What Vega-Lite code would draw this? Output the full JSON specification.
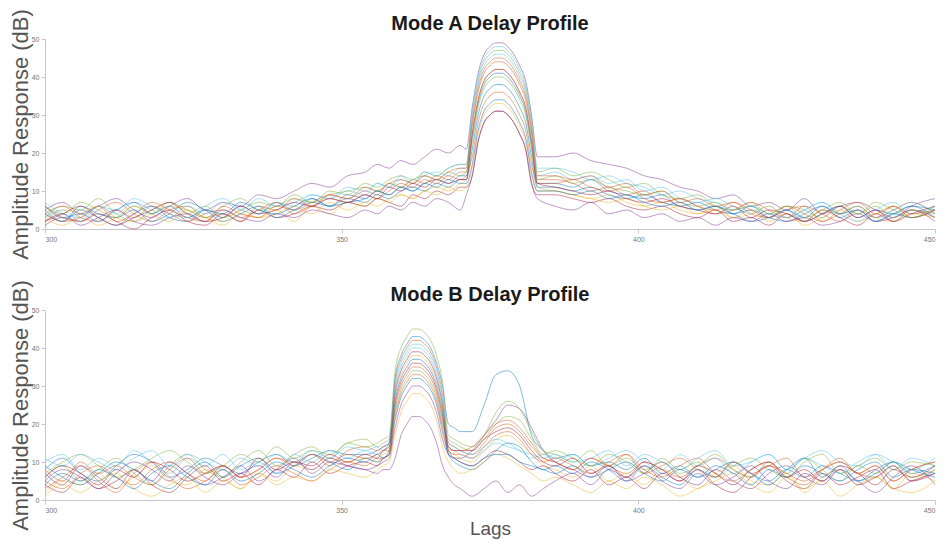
{
"$schema":"https://vega.github.io/schema/vega-lite/v6.json",
"background":"white",
"padding":{"left":9,"top":8,"right":8,"bottom":4},
"bounds":"flush",
"spacing":81,
"config":{"view":{"stroke":null},"font":"Liberation Sans","title":{"fontSize":20,"fontWeight":"bold","color":"#1a1a1a","offset":4,"dy":29},"axis":{"labelFontSize":7,"labelColor":"#777","domainColor":"#c8c8c8","tickColor":"#c8c8c8","tickSize":4,"grid":false,"titleFontWeight":"normal","titleColor":"#555"}},
"datasets":{
"A":[
{"s":1,"x":300,"y":4},{"s":1,"x":303,"y":2},{"s":1,"x":306,"y":5},{"s":1,"x":309,"y":3},{"s":1,"x":312,"y":1},{"s":1,"x":315,"y":4},{"s":1,"x":318,"y":6},{"s":1,"x":321,"y":3},{"s":1,"x":324,"y":2},{"s":1,"x":327,"y":5},{"s":1,"x":330,"y":3},{"s":1,"x":333,"y":6},{"s":1,"x":336,"y":4},{"s":1,"x":339,"y":7},{"s":1,"x":342,"y":5},{"s":1,"x":345,"y":8},{"s":1,"x":348,"y":6},{"s":1,"x":351,"y":9},{"s":1,"x":354,"y":8},{"s":1,"x":356,"y":10},{"s":1,"x":358,"y":9},{"s":1,"x":360,"y":11},{"s":1,"x":362,"y":10},{"s":1,"x":364,"y":12},{"s":1,"x":366,"y":13},{"s":1,"x":368,"y":12},{"s":1,"x":370,"y":14},{"s":1,"x":371,"y":14},{"s":1,"x":372,"y":24},{"s":1,"x":373,"y":33},{"s":1,"x":374,"y":38},{"s":1,"x":375,"y":40},{"s":1,"x":376,"y":41},{"s":1,"x":377,"y":41},{"s":1,"x":378,"y":40},{"s":1,"x":379,"y":38},{"s":1,"x":380,"y":35},{"s":1,"x":381,"y":31},{"s":1,"x":382,"y":22},{"s":1,"x":383,"y":12},{"s":1,"x":386,"y":12},{"s":1,"x":389,"y":11},{"s":1,"x":392,"y":13},{"s":1,"x":395,"y":10},{"s":1,"x":398,"y":9},{"s":1,"x":401,"y":8},{"s":1,"x":404,"y":9},{"s":1,"x":407,"y":6},{"s":1,"x":410,"y":7},{"s":1,"x":413,"y":5},{"s":1,"x":416,"y":4},{"s":1,"x":419,"y":6},{"s":1,"x":422,"y":3},{"s":1,"x":425,"y":5},{"s":1,"x":428,"y":2},{"s":1,"x":431,"y":4},{"s":1,"x":434,"y":6},{"s":1,"x":437,"y":3},{"s":1,"x":440,"y":5},{"s":1,"x":443,"y":4},{"s":1,"x":446,"y":6},{"s":1,"x":450,"y":5},
{"s":2,"x":300,"y":6},{"s":2,"x":303,"y":3},{"s":2,"x":306,"y":2},{"s":2,"x":309,"y":5},{"s":2,"x":312,"y":7},{"s":2,"x":315,"y":4},{"s":2,"x":318,"y":2},{"s":2,"x":321,"y":5},{"s":2,"x":324,"y":6},{"s":2,"x":327,"y":3},{"s":2,"x":330,"y":4},{"s":2,"x":333,"y":2},{"s":2,"x":336,"y":6},{"s":2,"x":339,"y":5},{"s":2,"x":342,"y":8},{"s":2,"x":345,"y":6},{"s":2,"x":348,"y":9},{"s":2,"x":351,"y":8},{"s":2,"x":354,"y":10},{"s":2,"x":356,"y":9},{"s":2,"x":358,"y":12},{"s":2,"x":360,"y":11},{"s":2,"x":362,"y":13},{"s":2,"x":364,"y":12},{"s":2,"x":366,"y":14},{"s":2,"x":368,"y":13},{"s":2,"x":370,"y":15},{"s":2,"x":371,"y":15},{"s":2,"x":372,"y":27},{"s":2,"x":373,"y":36},{"s":2,"x":374,"y":41},{"s":2,"x":375,"y":43},{"s":2,"x":376,"y":44},{"s":2,"x":377,"y":44},{"s":2,"x":378,"y":43},{"s":2,"x":379,"y":41},{"s":2,"x":380,"y":38},{"s":2,"x":381,"y":34},{"s":2,"x":382,"y":25},{"s":2,"x":383,"y":13},{"s":2,"x":386,"y":13},{"s":2,"x":389,"y":12},{"s":2,"x":392,"y":10},{"s":2,"x":395,"y":11},{"s":2,"x":398,"y":9},{"s":2,"x":401,"y":10},{"s":2,"x":404,"y":7},{"s":2,"x":407,"y":8},{"s":2,"x":410,"y":6},{"s":2,"x":413,"y":5},{"s":2,"x":416,"y":7},{"s":2,"x":419,"y":4},{"s":2,"x":422,"y":3},{"s":2,"x":425,"y":5},{"s":2,"x":428,"y":6},{"s":2,"x":431,"y":2},{"s":2,"x":434,"y":4},{"s":2,"x":437,"y":6},{"s":2,"x":440,"y":3},{"s":2,"x":443,"y":5},{"s":2,"x":446,"y":7},{"s":2,"x":450,"y":4},
{"s":3,"x":300,"y":2},{"s":3,"x":303,"y":5},{"s":3,"x":306,"y":4},{"s":3,"x":309,"y":1},{"s":3,"x":312,"y":3},{"s":3,"x":315,"y":6},{"s":3,"x":318,"y":4},{"s":3,"x":321,"y":2},{"s":3,"x":324,"y":5},{"s":3,"x":327,"y":3},{"s":3,"x":330,"y":1},{"s":3,"x":333,"y":4},{"s":3,"x":336,"y":3},{"s":3,"x":339,"y":5},{"s":3,"x":342,"y":2},{"s":3,"x":345,"y":6},{"s":3,"x":348,"y":4},{"s":3,"x":351,"y":7},{"s":3,"x":354,"y":6},{"s":3,"x":356,"y":8},{"s":3,"x":358,"y":7},{"s":3,"x":360,"y":9},{"s":3,"x":362,"y":8},{"s":3,"x":364,"y":10},{"s":3,"x":366,"y":11},{"s":3,"x":368,"y":10},{"s":3,"x":370,"y":12},{"s":3,"x":371,"y":13},{"s":3,"x":372,"y":25},{"s":3,"x":373,"y":34},{"s":3,"x":374,"y":39},{"s":3,"x":375,"y":41},{"s":3,"x":376,"y":42},{"s":3,"x":377,"y":42},{"s":3,"x":378,"y":41},{"s":3,"x":379,"y":39},{"s":3,"x":380,"y":36},{"s":3,"x":381,"y":32},{"s":3,"x":382,"y":23},{"s":3,"x":383,"y":11},{"s":3,"x":386,"y":10},{"s":3,"x":389,"y":9},{"s":3,"x":392,"y":8},{"s":3,"x":395,"y":9},{"s":3,"x":398,"y":7},{"s":3,"x":401,"y":6},{"s":3,"x":404,"y":7},{"s":3,"x":407,"y":5},{"s":3,"x":410,"y":4},{"s":3,"x":413,"y":6},{"s":3,"x":416,"y":3},{"s":3,"x":419,"y":5},{"s":3,"x":422,"y":2},{"s":3,"x":425,"y":4},{"s":3,"x":428,"y":1},{"s":3,"x":431,"y":3},{"s":3,"x":434,"y":5},{"s":3,"x":437,"y":2},{"s":3,"x":440,"y":4},{"s":3,"x":443,"y":6},{"s":3,"x":446,"y":3},{"s":3,"x":450,"y":5},
{"s":4,"x":300,"y":5},{"s":4,"x":303,"y":7},{"s":4,"x":306,"y":4},{"s":4,"x":309,"y":6},{"s":4,"x":312,"y":8},{"s":4,"x":315,"y":5},{"s":4,"x":318,"y":3},{"s":4,"x":321,"y":6},{"s":4,"x":324,"y":8},{"s":4,"x":327,"y":5},{"s":4,"x":330,"y":7},{"s":4,"x":333,"y":6},{"s":4,"x":336,"y":9},{"s":4,"x":339,"y":8},{"s":4,"x":342,"y":10},{"s":4,"x":345,"y":12},{"s":4,"x":348,"y":11},{"s":4,"x":351,"y":14},{"s":4,"x":354,"y":15},{"s":4,"x":356,"y":17},{"s":4,"x":358,"y":16},{"s":4,"x":360,"y":18},{"s":4,"x":362,"y":17},{"s":4,"x":364,"y":19},{"s":4,"x":366,"y":21},{"s":4,"x":368,"y":20},{"s":4,"x":370,"y":22},{"s":4,"x":371,"y":21},{"s":4,"x":372,"y":32},{"s":4,"x":373,"y":41},{"s":4,"x":374,"y":46},{"s":4,"x":375,"y":48},{"s":4,"x":376,"y":49},{"s":4,"x":377,"y":49},{"s":4,"x":378,"y":48},{"s":4,"x":379,"y":46},{"s":4,"x":380,"y":43},{"s":4,"x":381,"y":39},{"s":4,"x":382,"y":30},{"s":4,"x":383,"y":19},{"s":4,"x":386,"y":19},{"s":4,"x":389,"y":20},{"s":4,"x":392,"y":18},{"s":4,"x":395,"y":17},{"s":4,"x":398,"y":16},{"s":4,"x":401,"y":14},{"s":4,"x":404,"y":13},{"s":4,"x":407,"y":11},{"s":4,"x":410,"y":10},{"s":4,"x":413,"y":8},{"s":4,"x":416,"y":9},{"s":4,"x":419,"y":6},{"s":4,"x":422,"y":7},{"s":4,"x":425,"y":5},{"s":4,"x":428,"y":8},{"s":4,"x":431,"y":4},{"s":4,"x":434,"y":6},{"s":4,"x":437,"y":7},{"s":4,"x":440,"y":5},{"s":4,"x":443,"y":3},{"s":4,"x":446,"y":6},{"s":4,"x":450,"y":8},
{"s":5,"x":300,"y":3},{"s":5,"x":303,"y":6},{"s":5,"x":306,"y":5},{"s":5,"x":309,"y":8},{"s":5,"x":312,"y":4},{"s":5,"x":315,"y":2},{"s":5,"x":318,"y":5},{"s":5,"x":321,"y":7},{"s":5,"x":324,"y":4},{"s":5,"x":327,"y":6},{"s":5,"x":330,"y":3},{"s":5,"x":333,"y":5},{"s":5,"x":336,"y":7},{"s":5,"x":339,"y":6},{"s":5,"x":342,"y":9},{"s":5,"x":345,"y":7},{"s":5,"x":348,"y":10},{"s":5,"x":351,"y":9},{"s":5,"x":354,"y":12},{"s":5,"x":356,"y":11},{"s":5,"x":358,"y":13},{"s":5,"x":360,"y":14},{"s":5,"x":362,"y":12},{"s":5,"x":364,"y":15},{"s":5,"x":366,"y":14},{"s":5,"x":368,"y":16},{"s":5,"x":370,"y":17},{"s":5,"x":371,"y":17},{"s":5,"x":372,"y":30},{"s":5,"x":373,"y":39},{"s":5,"x":374,"y":44},{"s":5,"x":375,"y":46},{"s":5,"x":376,"y":47},{"s":5,"x":377,"y":47},{"s":5,"x":378,"y":46},{"s":5,"x":379,"y":44},{"s":5,"x":380,"y":41},{"s":5,"x":381,"y":37},{"s":5,"x":382,"y":28},{"s":5,"x":383,"y":15},{"s":5,"x":386,"y":16},{"s":5,"x":389,"y":14},{"s":5,"x":392,"y":15},{"s":5,"x":395,"y":13},{"s":5,"x":398,"y":11},{"s":5,"x":401,"y":12},{"s":5,"x":404,"y":9},{"s":5,"x":407,"y":8},{"s":5,"x":410,"y":9},{"s":5,"x":413,"y":6},{"s":5,"x":416,"y":5},{"s":5,"x":419,"y":7},{"s":5,"x":422,"y":4},{"s":5,"x":425,"y":6},{"s":5,"x":428,"y":5},{"s":5,"x":431,"y":3},{"s":5,"x":434,"y":6},{"s":5,"x":437,"y":4},{"s":5,"x":440,"y":7},{"s":5,"x":443,"y":5},{"s":5,"x":446,"y":3},{"s":5,"x":450,"y":6},
{"s":6,"x":300,"y":7},{"s":6,"x":303,"y":4},{"s":6,"x":306,"y":3},{"s":6,"x":309,"y":6},{"s":6,"x":312,"y":5},{"s":6,"x":315,"y":8},{"s":6,"x":318,"y":6},{"s":6,"x":321,"y":4},{"s":6,"x":324,"y":3},{"s":6,"x":327,"y":6},{"s":6,"x":330,"y":8},{"s":6,"x":333,"y":5},{"s":6,"x":336,"y":4},{"s":6,"x":339,"y":7},{"s":6,"x":342,"y":6},{"s":6,"x":345,"y":9},{"s":6,"x":348,"y":8},{"s":6,"x":351,"y":10},{"s":6,"x":354,"y":9},{"s":6,"x":356,"y":12},{"s":6,"x":358,"y":11},{"s":6,"x":360,"y":13},{"s":6,"x":362,"y":12},{"s":6,"x":364,"y":14},{"s":6,"x":366,"y":15},{"s":6,"x":368,"y":14},{"s":6,"x":370,"y":16},{"s":6,"x":371,"y":16},{"s":6,"x":372,"y":29},{"s":6,"x":373,"y":38},{"s":6,"x":374,"y":43},{"s":6,"x":375,"y":45},{"s":6,"x":376,"y":46},{"s":6,"x":377,"y":46},{"s":6,"x":378,"y":45},{"s":6,"x":379,"y":43},{"s":6,"x":380,"y":40},{"s":6,"x":381,"y":36},{"s":6,"x":382,"y":27},{"s":6,"x":383,"y":14},{"s":6,"x":386,"y":15},{"s":6,"x":389,"y":13},{"s":6,"x":392,"y":14},{"s":6,"x":395,"y":12},{"s":6,"x":398,"y":13},{"s":6,"x":401,"y":10},{"s":6,"x":404,"y":11},{"s":6,"x":407,"y":8},{"s":6,"x":410,"y":7},{"s":6,"x":413,"y":8},{"s":6,"x":416,"y":6},{"s":6,"x":419,"y":4},{"s":6,"x":422,"y":6},{"s":6,"x":425,"y":3},{"s":6,"x":428,"y":5},{"s":6,"x":431,"y":7},{"s":6,"x":434,"y":4},{"s":6,"x":437,"y":2},{"s":6,"x":440,"y":5},{"s":6,"x":443,"y":7},{"s":6,"x":446,"y":4},{"s":6,"x":450,"y":6},
{"s":7,"x":300,"y":1},{"s":7,"x":303,"y":3},{"s":7,"x":306,"y":2},{"s":7,"x":309,"y":4},{"s":7,"x":312,"y":2},{"s":7,"x":315,"y":0},{"s":7,"x":318,"y":3},{"s":7,"x":321,"y":5},{"s":7,"x":324,"y":2},{"s":7,"x":327,"y":1},{"s":7,"x":330,"y":4},{"s":7,"x":333,"y":2},{"s":7,"x":336,"y":5},{"s":7,"x":339,"y":3},{"s":7,"x":342,"y":4},{"s":7,"x":345,"y":6},{"s":7,"x":348,"y":5},{"s":7,"x":351,"y":7},{"s":7,"x":354,"y":6},{"s":7,"x":356,"y":8},{"s":7,"x":358,"y":7},{"s":7,"x":360,"y":6},{"s":7,"x":362,"y":9},{"s":7,"x":364,"y":8},{"s":7,"x":366,"y":10},{"s":7,"x":368,"y":9},{"s":7,"x":370,"y":11},{"s":7,"x":371,"y":11},{"s":7,"x":372,"y":14},{"s":7,"x":373,"y":23},{"s":7,"x":374,"y":28},{"s":7,"x":375,"y":30},{"s":7,"x":376,"y":31},{"s":7,"x":377,"y":31},{"s":7,"x":378,"y":30},{"s":7,"x":379,"y":28},{"s":7,"x":380,"y":25},{"s":7,"x":381,"y":21},{"s":7,"x":382,"y":12},{"s":7,"x":383,"y":9},{"s":7,"x":386,"y":9},{"s":7,"x":389,"y":8},{"s":7,"x":392,"y":7},{"s":7,"x":395,"y":8},{"s":7,"x":398,"y":6},{"s":7,"x":401,"y":5},{"s":7,"x":404,"y":6},{"s":7,"x":407,"y":4},{"s":7,"x":410,"y":3},{"s":7,"x":413,"y":5},{"s":7,"x":416,"y":2},{"s":7,"x":419,"y":3},{"s":7,"x":422,"y":1},{"s":7,"x":425,"y":4},{"s":7,"x":428,"y":2},{"s":7,"x":431,"y":5},{"s":7,"x":434,"y":3},{"s":7,"x":437,"y":1},{"s":7,"x":440,"y":4},{"s":7,"x":443,"y":2},{"s":7,"x":446,"y":5},{"s":7,"x":450,"y":3},
{"s":8,"x":300,"y":5},{"s":8,"x":303,"y":2},{"s":8,"x":306,"y":6},{"s":8,"x":309,"y":4},{"s":8,"x":312,"y":3},{"s":8,"x":315,"y":5},{"s":8,"x":318,"y":2},{"s":8,"x":321,"y":4},{"s":8,"x":324,"y":7},{"s":8,"x":327,"y":5},{"s":8,"x":330,"y":2},{"s":8,"x":333,"y":4},{"s":8,"x":336,"y":6},{"s":8,"x":339,"y":3},{"s":8,"x":342,"y":5},{"s":8,"x":345,"y":7},{"s":8,"x":348,"y":6},{"s":8,"x":351,"y":8},{"s":8,"x":354,"y":7},{"s":8,"x":356,"y":9},{"s":8,"x":358,"y":8},{"s":8,"x":360,"y":10},{"s":8,"x":362,"y":11},{"s":8,"x":364,"y":10},{"s":8,"x":366,"y":12},{"s":8,"x":368,"y":11},{"s":8,"x":370,"y":13},{"s":8,"x":371,"y":13},{"s":8,"x":372,"y":21},{"s":8,"x":373,"y":30},{"s":8,"x":374,"y":35},{"s":8,"x":375,"y":37},{"s":8,"x":376,"y":38},{"s":8,"x":377,"y":38},{"s":8,"x":378,"y":37},{"s":8,"x":379,"y":35},{"s":8,"x":380,"y":32},{"s":8,"x":381,"y":28},{"s":8,"x":382,"y":19},{"s":8,"x":383,"y":11},{"s":8,"x":386,"y":11},{"s":8,"x":389,"y":10},{"s":8,"x":392,"y":11},{"s":8,"x":395,"y":9},{"s":8,"x":398,"y":8},{"s":8,"x":401,"y":9},{"s":8,"x":404,"y":7},{"s":8,"x":407,"y":6},{"s":8,"x":410,"y":5},{"s":8,"x":413,"y":6},{"s":8,"x":416,"y":4},{"s":8,"x":419,"y":5},{"s":8,"x":422,"y":3},{"s":8,"x":425,"y":2},{"s":8,"x":428,"y":4},{"s":8,"x":431,"y":6},{"s":8,"x":434,"y":3},{"s":8,"x":437,"y":5},{"s":8,"x":440,"y":2},{"s":8,"x":443,"y":4},{"s":8,"x":446,"y":6},{"s":8,"x":450,"y":3},
{"s":9,"x":300,"y":4},{"s":9,"x":303,"y":6},{"s":9,"x":306,"y":3},{"s":9,"x":309,"y":2},{"s":9,"x":312,"y":5},{"s":9,"x":315,"y":3},{"s":9,"x":318,"y":6},{"s":9,"x":321,"y":4},{"s":9,"x":324,"y":2},{"s":9,"x":327,"y":4},{"s":9,"x":330,"y":5},{"s":9,"x":333,"y":3},{"s":9,"x":336,"y":5},{"s":9,"x":339,"y":7},{"s":9,"x":342,"y":4},{"s":9,"x":345,"y":6},{"s":9,"x":348,"y":8},{"s":9,"x":351,"y":7},{"s":9,"x":354,"y":9},{"s":9,"x":356,"y":8},{"s":9,"x":358,"y":10},{"s":9,"x":360,"y":12},{"s":9,"x":362,"y":11},{"s":9,"x":364,"y":13},{"s":9,"x":366,"y":12},{"s":9,"x":368,"y":14},{"s":9,"x":370,"y":13},{"s":9,"x":371,"y":14},{"s":9,"x":372,"y":19},{"s":9,"x":373,"y":28},{"s":9,"x":374,"y":33},{"s":9,"x":375,"y":35},{"s":9,"x":376,"y":36},{"s":9,"x":377,"y":36},{"s":9,"x":378,"y":35},{"s":9,"x":379,"y":33},{"s":9,"x":380,"y":30},{"s":9,"x":381,"y":26},{"s":9,"x":382,"y":17},{"s":9,"x":383,"y":12},{"s":9,"x":386,"y":12},{"s":9,"x":389,"y":13},{"s":9,"x":392,"y":11},{"s":9,"x":395,"y":10},{"s":9,"x":398,"y":11},{"s":9,"x":401,"y":8},{"s":9,"x":404,"y":7},{"s":9,"x":407,"y":8},{"s":9,"x":410,"y":6},{"s":9,"x":413,"y":4},{"s":9,"x":416,"y":5},{"s":9,"x":419,"y":7},{"s":9,"x":422,"y":5},{"s":9,"x":425,"y":3},{"s":9,"x":428,"y":6},{"s":9,"x":431,"y":4},{"s":9,"x":434,"y":2},{"s":9,"x":437,"y":5},{"s":9,"x":440,"y":3},{"s":9,"x":443,"y":6},{"s":9,"x":446,"y":4},{"s":9,"x":450,"y":5},
{"s":10,"x":300,"y":3},{"s":10,"x":303,"y":1},{"s":10,"x":306,"y":4},{"s":10,"x":309,"y":6},{"s":10,"x":312,"y":3},{"s":10,"x":315,"y":2},{"s":10,"x":318,"y":4},{"s":10,"x":321,"y":6},{"s":10,"x":324,"y":5},{"s":10,"x":327,"y":3},{"s":10,"x":330,"y":2},{"s":10,"x":333,"y":5},{"s":10,"x":336,"y":3},{"s":10,"x":339,"y":4},{"s":10,"x":342,"y":6},{"s":10,"x":345,"y":4},{"s":10,"x":348,"y":7},{"s":10,"x":351,"y":5},{"s":10,"x":354,"y":7},{"s":10,"x":356,"y":6},{"s":10,"x":358,"y":8},{"s":10,"x":360,"y":9},{"s":10,"x":362,"y":8},{"s":10,"x":364,"y":10},{"s":10,"x":366,"y":9},{"s":10,"x":368,"y":11},{"s":10,"x":370,"y":10},{"s":10,"x":371,"y":11},{"s":10,"x":372,"y":16},{"s":10,"x":373,"y":25},{"s":10,"x":374,"y":30},{"s":10,"x":375,"y":32},{"s":10,"x":376,"y":33},{"s":10,"x":377,"y":33},{"s":10,"x":378,"y":32},{"s":10,"x":379,"y":30},{"s":10,"x":380,"y":27},{"s":10,"x":381,"y":23},{"s":10,"x":382,"y":14},{"s":10,"x":383,"y":10},{"s":10,"x":386,"y":10},{"s":10,"x":389,"y":9},{"s":10,"x":392,"y":8},{"s":10,"x":395,"y":7},{"s":10,"x":398,"y":8},{"s":10,"x":401,"y":6},{"s":10,"x":404,"y":5},{"s":10,"x":407,"y":6},{"s":10,"x":410,"y":4},{"s":10,"x":413,"y":5},{"s":10,"x":416,"y":3},{"s":10,"x":419,"y":4},{"s":10,"x":422,"y":6},{"s":10,"x":425,"y":3},{"s":10,"x":428,"y":2},{"s":10,"x":431,"y":5},{"s":10,"x":434,"y":4},{"s":10,"x":437,"y":6},{"s":10,"x":440,"y":3},{"s":10,"x":443,"y":2},{"s":10,"x":446,"y":4},{"s":10,"x":450,"y":3},
{"s":11,"x":300,"y":2},{"s":11,"x":303,"y":4},{"s":11,"x":306,"y":1},{"s":11,"x":309,"y":3},{"s":11,"x":312,"y":5},{"s":11,"x":315,"y":2},{"s":11,"x":318,"y":1},{"s":11,"x":321,"y":3},{"s":11,"x":324,"y":4},{"s":11,"x":327,"y":2},{"s":11,"x":330,"y":5},{"s":11,"x":333,"y":3},{"s":11,"x":336,"y":2},{"s":11,"x":339,"y":4},{"s":11,"x":342,"y":3},{"s":11,"x":345,"y":5},{"s":11,"x":348,"y":4},{"s":11,"x":351,"y":3},{"s":11,"x":354,"y":5},{"s":11,"x":356,"y":4},{"s":11,"x":358,"y":6},{"s":11,"x":360,"y":5},{"s":11,"x":362,"y":7},{"s":11,"x":364,"y":6},{"s":11,"x":366,"y":8},{"s":11,"x":368,"y":7},{"s":11,"x":370,"y":5},{"s":11,"x":371,"y":9},{"s":11,"x":372,"y":14},{"s":11,"x":373,"y":23},{"s":11,"x":374,"y":28},{"s":11,"x":375,"y":30},{"s":11,"x":376,"y":31},{"s":11,"x":377,"y":31},{"s":11,"x":378,"y":30},{"s":11,"x":379,"y":28},{"s":11,"x":380,"y":25},{"s":11,"x":381,"y":21},{"s":11,"x":382,"y":12},{"s":11,"x":383,"y":8},{"s":11,"x":386,"y":6},{"s":11,"x":389,"y":5},{"s":11,"x":392,"y":7},{"s":11,"x":395,"y":4},{"s":11,"x":398,"y":5},{"s":11,"x":401,"y":3},{"s":11,"x":404,"y":4},{"s":11,"x":407,"y":2},{"s":11,"x":410,"y":3},{"s":11,"x":413,"y":1},{"s":11,"x":416,"y":3},{"s":11,"x":419,"y":2},{"s":11,"x":422,"y":4},{"s":11,"x":425,"y":2},{"s":11,"x":428,"y":3},{"s":11,"x":431,"y":1},{"s":11,"x":434,"y":2},{"s":11,"x":437,"y":4},{"s":11,"x":440,"y":2},{"s":11,"x":443,"y":3},{"s":11,"x":446,"y":5},{"s":11,"x":450,"y":2},
{"s":12,"x":300,"y":6},{"s":12,"x":303,"y":4},{"s":12,"x":306,"y":7},{"s":12,"x":309,"y":5},{"s":12,"x":312,"y":3},{"s":12,"x":315,"y":6},{"s":12,"x":318,"y":4},{"s":12,"x":321,"y":7},{"s":12,"x":324,"y":5},{"s":12,"x":327,"y":3},{"s":12,"x":330,"y":6},{"s":12,"x":333,"y":8},{"s":12,"x":336,"y":5},{"s":12,"x":339,"y":6},{"s":12,"x":342,"y":8},{"s":12,"x":345,"y":7},{"s":12,"x":348,"y":9},{"s":12,"x":351,"y":10},{"s":12,"x":354,"y":11},{"s":12,"x":356,"y":10},{"s":12,"x":358,"y":12},{"s":12,"x":360,"y":11},{"s":12,"x":362,"y":13},{"s":12,"x":364,"y":14},{"s":12,"x":366,"y":13},{"s":12,"x":368,"y":15},{"s":12,"x":370,"y":14},{"s":12,"x":371,"y":15},{"s":12,"x":372,"y":23},{"s":12,"x":373,"y":32},{"s":12,"x":374,"y":37},{"s":12,"x":375,"y":39},{"s":12,"x":376,"y":40},{"s":12,"x":377,"y":40},{"s":12,"x":378,"y":39},{"s":12,"x":379,"y":37},{"s":12,"x":380,"y":34},{"s":12,"x":381,"y":30},{"s":12,"x":382,"y":21},{"s":12,"x":383,"y":13},{"s":12,"x":386,"y":14},{"s":12,"x":389,"y":12},{"s":12,"x":392,"y":13},{"s":12,"x":395,"y":11},{"s":12,"x":398,"y":10},{"s":12,"x":401,"y":9},{"s":12,"x":404,"y":10},{"s":12,"x":407,"y":7},{"s":12,"x":410,"y":6},{"s":12,"x":413,"y":7},{"s":12,"x":416,"y":5},{"s":12,"x":419,"y":6},{"s":12,"x":422,"y":4},{"s":12,"x":425,"y":6},{"s":12,"x":428,"y":3},{"s":12,"x":431,"y":5},{"s":12,"x":434,"y":7},{"s":12,"x":437,"y":4},{"s":12,"x":440,"y":6},{"s":12,"x":443,"y":3},{"s":12,"x":446,"y":5},{"s":12,"x":450,"y":4},
{"s":13,"x":300,"y":3},{"s":13,"x":303,"y":5},{"s":13,"x":306,"y":2},{"s":13,"x":309,"y":6},{"s":13,"x":312,"y":4},{"s":13,"x":315,"y":7},{"s":13,"x":318,"y":5},{"s":13,"x":321,"y":3},{"s":13,"x":324,"y":6},{"s":13,"x":327,"y":4},{"s":13,"x":330,"y":7},{"s":13,"x":333,"y":5},{"s":13,"x":336,"y":8},{"s":13,"x":339,"y":6},{"s":13,"x":342,"y":7},{"s":13,"x":345,"y":9},{"s":13,"x":348,"y":8},{"s":13,"x":351,"y":11},{"s":13,"x":354,"y":10},{"s":13,"x":356,"y":12},{"s":13,"x":358,"y":11},{"s":13,"x":360,"y":14},{"s":13,"x":362,"y":13},{"s":13,"x":364,"y":15},{"s":13,"x":366,"y":14},{"s":13,"x":368,"y":16},{"s":13,"x":370,"y":17},{"s":13,"x":371,"y":17},{"s":13,"x":372,"y":31},{"s":13,"x":373,"y":40},{"s":13,"x":374,"y":45},{"s":13,"x":375,"y":47},{"s":13,"x":376,"y":48},{"s":13,"x":377,"y":48},{"s":13,"x":378,"y":47},{"s":13,"x":379,"y":45},{"s":13,"x":380,"y":42},{"s":13,"x":381,"y":38},{"s":13,"x":382,"y":29},{"s":13,"x":383,"y":16},{"s":13,"x":386,"y":16},{"s":13,"x":389,"y":15},{"s":13,"x":392,"y":13},{"s":13,"x":395,"y":14},{"s":13,"x":398,"y":12},{"s":13,"x":401,"y":11},{"s":13,"x":404,"y":9},{"s":13,"x":407,"y":10},{"s":13,"x":410,"y":8},{"s":13,"x":413,"y":7},{"s":13,"x":416,"y":5},{"s":13,"x":419,"y":6},{"s":13,"x":422,"y":4},{"s":13,"x":425,"y":3},{"s":13,"x":428,"y":5},{"s":13,"x":431,"y":7},{"s":13,"x":434,"y":4},{"s":13,"x":437,"y":6},{"s":13,"x":440,"y":3},{"s":13,"x":443,"y":5},{"s":13,"x":446,"y":7},{"s":13,"x":450,"y":4},
{"s":14,"x":300,"y":2},{"s":14,"x":303,"y":4},{"s":14,"x":306,"y":6},{"s":14,"x":309,"y":3},{"s":14,"x":312,"y":1},{"s":14,"x":315,"y":3},{"s":14,"x":318,"y":5},{"s":14,"x":321,"y":7},{"s":14,"x":324,"y":4},{"s":14,"x":327,"y":2},{"s":14,"x":330,"y":3},{"s":14,"x":333,"y":6},{"s":14,"x":336,"y":4},{"s":14,"x":339,"y":5},{"s":14,"x":342,"y":7},{"s":14,"x":345,"y":6},{"s":14,"x":348,"y":8},{"s":14,"x":351,"y":7},{"s":14,"x":354,"y":9},{"s":14,"x":356,"y":8},{"s":14,"x":358,"y":11},{"s":14,"x":360,"y":10},{"s":14,"x":362,"y":12},{"s":14,"x":364,"y":11},{"s":14,"x":366,"y":13},{"s":14,"x":368,"y":12},{"s":14,"x":370,"y":13},{"s":14,"x":371,"y":13},{"s":14,"x":372,"y":25},{"s":14,"x":373,"y":34},{"s":14,"x":374,"y":39},{"s":14,"x":375,"y":41},{"s":14,"x":376,"y":42},{"s":14,"x":377,"y":42},{"s":14,"x":378,"y":41},{"s":14,"x":379,"y":39},{"s":14,"x":380,"y":36},{"s":14,"x":381,"y":32},{"s":14,"x":382,"y":23},{"s":14,"x":383,"y":12},{"s":14,"x":386,"y":11},{"s":14,"x":389,"y":10},{"s":14,"x":392,"y":9},{"s":14,"x":395,"y":10},{"s":14,"x":398,"y":8},{"s":14,"x":401,"y":7},{"s":14,"x":404,"y":8},{"s":14,"x":407,"y":6},{"s":14,"x":410,"y":5},{"s":14,"x":413,"y":4},{"s":14,"x":416,"y":6},{"s":14,"x":419,"y":3},{"s":14,"x":422,"y":5},{"s":14,"x":425,"y":4},{"s":14,"x":428,"y":2},{"s":14,"x":431,"y":4},{"s":14,"x":434,"y":6},{"s":14,"x":437,"y":3},{"s":14,"x":440,"y":5},{"s":14,"x":443,"y":2},{"s":14,"x":446,"y":4},{"s":14,"x":450,"y":6},
{"s":15,"x":300,"y":6},{"s":15,"x":303,"y":3},{"s":15,"x":306,"y":4},{"s":15,"x":309,"y":2},{"s":15,"x":312,"y":5},{"s":15,"x":315,"y":7},{"s":15,"x":318,"y":4},{"s":15,"x":321,"y":6},{"s":15,"x":324,"y":3},{"s":15,"x":327,"y":5},{"s":15,"x":330,"y":4},{"s":15,"x":333,"y":7},{"s":15,"x":336,"y":5},{"s":15,"x":339,"y":4},{"s":15,"x":342,"y":6},{"s":15,"x":345,"y":8},{"s":15,"x":348,"y":6},{"s":15,"x":351,"y":7},{"s":15,"x":354,"y":8},{"s":15,"x":356,"y":10},{"s":15,"x":358,"y":9},{"s":15,"x":360,"y":11},{"s":15,"x":362,"y":10},{"s":15,"x":364,"y":12},{"s":15,"x":366,"y":11},{"s":15,"x":368,"y":13},{"s":15,"x":370,"y":12},{"s":15,"x":371,"y":12},{"s":15,"x":372,"y":17},{"s":15,"x":373,"y":26},{"s":15,"x":374,"y":31},{"s":15,"x":375,"y":33},{"s":15,"x":376,"y":34},{"s":15,"x":377,"y":34},{"s":15,"x":378,"y":33},{"s":15,"x":379,"y":31},{"s":15,"x":380,"y":28},{"s":15,"x":381,"y":24},{"s":15,"x":382,"y":15},{"s":15,"x":383,"y":10},{"s":15,"x":386,"y":10},{"s":15,"x":389,"y":9},{"s":15,"x":392,"y":10},{"s":15,"x":395,"y":8},{"s":15,"x":398,"y":9},{"s":15,"x":401,"y":7},{"s":15,"x":404,"y":6},{"s":15,"x":407,"y":7},{"s":15,"x":410,"y":5},{"s":15,"x":413,"y":6},{"s":15,"x":416,"y":4},{"s":15,"x":419,"y":2},{"s":15,"x":422,"y":3},{"s":15,"x":425,"y":5},{"s":15,"x":428,"y":3},{"s":15,"x":431,"y":6},{"s":15,"x":434,"y":4},{"s":15,"x":437,"y":5},{"s":15,"x":440,"y":2},{"s":15,"x":443,"y":4},{"s":15,"x":446,"y":3},{"s":15,"x":450,"y":5},
{"s":16,"x":300,"y":4},{"s":16,"x":303,"y":2},{"s":16,"x":306,"y":3},{"s":16,"x":309,"y":6},{"s":16,"x":312,"y":2},{"s":16,"x":315,"y":4},{"s":16,"x":318,"y":7},{"s":16,"x":321,"y":5},{"s":16,"x":324,"y":3},{"s":16,"x":327,"y":2},{"s":16,"x":330,"y":6},{"s":16,"x":333,"y":4},{"s":16,"x":336,"y":3},{"s":16,"x":339,"y":6},{"s":16,"x":342,"y":5},{"s":16,"x":345,"y":7},{"s":16,"x":348,"y":9},{"s":16,"x":351,"y":8},{"s":16,"x":354,"y":11},{"s":16,"x":356,"y":10},{"s":16,"x":358,"y":12},{"s":16,"x":360,"y":13},{"s":16,"x":362,"y":12},{"s":16,"x":364,"y":14},{"s":16,"x":366,"y":13},{"s":16,"x":368,"y":15},{"s":16,"x":370,"y":16},{"s":16,"x":371,"y":16},{"s":16,"x":372,"y":28},{"s":16,"x":373,"y":37},{"s":16,"x":374,"y":42},{"s":16,"x":375,"y":44},{"s":16,"x":376,"y":45},{"s":16,"x":377,"y":45},{"s":16,"x":378,"y":44},{"s":16,"x":379,"y":42},{"s":16,"x":380,"y":39},{"s":16,"x":381,"y":35},{"s":16,"x":382,"y":26},{"s":16,"x":383,"y":14},{"s":16,"x":386,"y":14},{"s":16,"x":389,"y":13},{"s":16,"x":392,"y":14},{"s":16,"x":395,"y":11},{"s":16,"x":398,"y":12},{"s":16,"x":401,"y":9},{"s":16,"x":404,"y":10},{"s":16,"x":407,"y":7},{"s":16,"x":410,"y":8},{"s":16,"x":413,"y":6},{"s":16,"x":416,"y":7},{"s":16,"x":419,"y":5},{"s":16,"x":422,"y":3},{"s":16,"x":425,"y":6},{"s":16,"x":428,"y":4},{"s":16,"x":431,"y":2},{"s":16,"x":434,"y":5},{"s":16,"x":437,"y":7},{"s":16,"x":440,"y":4},{"s":16,"x":443,"y":6},{"s":16,"x":446,"y":3},{"s":16,"x":450,"y":5}
],
"B":[
{"s":1,"x":300,"y":8},{"s":1,"x":303,"y":11},{"s":1,"x":306,"y":7},{"s":1,"x":309,"y":5},{"s":1,"x":312,"y":9},{"s":1,"x":315,"y":12},{"s":1,"x":318,"y":10},{"s":1,"x":321,"y":6},{"s":1,"x":324,"y":8},{"s":1,"x":327,"y":11},{"s":1,"x":330,"y":9},{"s":1,"x":333,"y":7},{"s":1,"x":336,"y":10},{"s":1,"x":339,"y":12},{"s":1,"x":342,"y":9},{"s":1,"x":345,"y":11},{"s":1,"x":348,"y":13},{"s":1,"x":351,"y":12},{"s":1,"x":354,"y":12},{"s":1,"x":356,"y":13},{"s":1,"x":357,"y":14},{"s":1,"x":358,"y":15},{"s":1,"x":359,"y":32},{"s":1,"x":360,"y":38},{"s":1,"x":361,"y":41},{"s":1,"x":362,"y":43},{"s":1,"x":363,"y":43},{"s":1,"x":364,"y":42},{"s":1,"x":365,"y":40},{"s":1,"x":366,"y":36},{"s":1,"x":367,"y":30},{"s":1,"x":368,"y":20},{"s":1,"x":369,"y":19},{"s":1,"x":370,"y":18},{"s":1,"x":372,"y":18},{"s":1,"x":374,"y":25},{"s":1,"x":376,"y":33},{"s":1,"x":378,"y":34},{"s":1,"x":380,"y":30},{"s":1,"x":382,"y":17},{"s":1,"x":384,"y":13},{"s":1,"x":386,"y":11},{"s":1,"x":389,"y":12},{"s":1,"x":392,"y":9},{"s":1,"x":395,"y":10},{"s":1,"x":398,"y":8},{"s":1,"x":401,"y":11},{"s":1,"x":404,"y":7},{"s":1,"x":407,"y":9},{"s":1,"x":410,"y":6},{"s":1,"x":413,"y":8},{"s":1,"x":416,"y":10},{"s":1,"x":419,"y":7},{"s":1,"x":422,"y":5},{"s":1,"x":425,"y":8},{"s":1,"x":428,"y":6},{"s":1,"x":431,"y":9},{"s":1,"x":434,"y":7},{"s":1,"x":437,"y":5},{"s":1,"x":440,"y":8},{"s":1,"x":443,"y":10},{"s":1,"x":446,"y":7},{"s":1,"x":450,"y":9},
{"s":2,"x":300,"y":5},{"s":2,"x":303,"y":3},{"s":2,"x":306,"y":7},{"s":2,"x":309,"y":9},{"s":2,"x":312,"y":6},{"s":2,"x":315,"y":4},{"s":2,"x":318,"y":8},{"s":2,"x":321,"y":10},{"s":2,"x":324,"y":7},{"s":2,"x":327,"y":5},{"s":2,"x":330,"y":9},{"s":2,"x":333,"y":6},{"s":2,"x":336,"y":8},{"s":2,"x":339,"y":11},{"s":2,"x":342,"y":10},{"s":2,"x":345,"y":12},{"s":2,"x":348,"y":9},{"s":2,"x":351,"y":13},{"s":2,"x":354,"y":14},{"s":2,"x":356,"y":13},{"s":2,"x":357,"y":14},{"s":2,"x":358,"y":15},{"s":2,"x":359,"y":31},{"s":2,"x":360,"y":37},{"s":2,"x":361,"y":40},{"s":2,"x":362,"y":42},{"s":2,"x":363,"y":42},{"s":2,"x":364,"y":41},{"s":2,"x":365,"y":39},{"s":2,"x":366,"y":35},{"s":2,"x":367,"y":28},{"s":2,"x":368,"y":15},{"s":2,"x":369,"y":14},{"s":2,"x":370,"y":13},{"s":2,"x":372,"y":12},{"s":2,"x":374,"y":15},{"s":2,"x":376,"y":19},{"s":2,"x":378,"y":20},{"s":2,"x":380,"y":18},{"s":2,"x":382,"y":14},{"s":2,"x":384,"y":11},{"s":2,"x":386,"y":10},{"s":2,"x":389,"y":8},{"s":2,"x":392,"y":11},{"s":2,"x":395,"y":9},{"s":2,"x":398,"y":7},{"s":2,"x":401,"y":10},{"s":2,"x":404,"y":8},{"s":2,"x":407,"y":6},{"s":2,"x":410,"y":9},{"s":2,"x":413,"y":11},{"s":2,"x":416,"y":8},{"s":2,"x":419,"y":6},{"s":2,"x":422,"y":9},{"s":2,"x":425,"y":7},{"s":2,"x":428,"y":5},{"s":2,"x":431,"y":8},{"s":2,"x":434,"y":10},{"s":2,"x":437,"y":7},{"s":2,"x":440,"y":6},{"s":2,"x":443,"y":9},{"s":2,"x":446,"y":5},{"s":2,"x":450,"y":8},
{"s":3,"x":300,"y":2},{"s":3,"x":303,"y":5},{"s":3,"x":306,"y":4},{"s":3,"x":309,"y":7},{"s":3,"x":312,"y":3},{"s":3,"x":315,"y":6},{"s":3,"x":318,"y":9},{"s":3,"x":321,"y":5},{"s":3,"x":324,"y":4},{"s":3,"x":327,"y":8},{"s":3,"x":330,"y":6},{"s":3,"x":333,"y":3},{"s":3,"x":336,"y":7},{"s":3,"x":339,"y":5},{"s":3,"x":342,"y":9},{"s":3,"x":345,"y":8},{"s":3,"x":348,"y":11},{"s":3,"x":351,"y":10},{"s":3,"x":354,"y":11},{"s":3,"x":356,"y":10},{"s":3,"x":357,"y":12},{"s":3,"x":358,"y":13},{"s":3,"x":359,"y":27},{"s":3,"x":360,"y":33},{"s":3,"x":361,"y":36},{"s":3,"x":362,"y":38},{"s":3,"x":363,"y":38},{"s":3,"x":364,"y":37},{"s":3,"x":365,"y":35},{"s":3,"x":366,"y":31},{"s":3,"x":367,"y":24},{"s":3,"x":368,"y":13},{"s":3,"x":369,"y":12},{"s":3,"x":370,"y":11},{"s":3,"x":372,"y":10},{"s":3,"x":374,"y":13},{"s":3,"x":376,"y":16},{"s":3,"x":378,"y":17},{"s":3,"x":380,"y":15},{"s":3,"x":382,"y":12},{"s":3,"x":384,"y":9},{"s":3,"x":386,"y":8},{"s":3,"x":389,"y":6},{"s":3,"x":392,"y":9},{"s":3,"x":395,"y":5},{"s":3,"x":398,"y":7},{"s":3,"x":401,"y":4},{"s":3,"x":404,"y":8},{"s":3,"x":407,"y":6},{"s":3,"x":410,"y":3},{"s":3,"x":413,"y":7},{"s":3,"x":416,"y":9},{"s":3,"x":419,"y":5},{"s":3,"x":422,"y":4},{"s":3,"x":425,"y":7},{"s":3,"x":428,"y":2},{"s":3,"x":431,"y":6},{"s":3,"x":434,"y":8},{"s":3,"x":437,"y":4},{"s":3,"x":440,"y":6},{"s":3,"x":443,"y":3},{"s":3,"x":446,"y":7},{"s":3,"x":450,"y":5},
{"s":4,"x":300,"y":7},{"s":4,"x":303,"y":4},{"s":4,"x":306,"y":9},{"s":4,"x":309,"y":6},{"s":4,"x":312,"y":3},{"s":4,"x":315,"y":8},{"s":4,"x":318,"y":5},{"s":4,"x":321,"y":10},{"s":4,"x":324,"y":7},{"s":4,"x":327,"y":4},{"s":4,"x":330,"y":6},{"s":4,"x":333,"y":9},{"s":4,"x":336,"y":5},{"s":4,"x":339,"y":8},{"s":4,"x":342,"y":11},{"s":4,"x":345,"y":7},{"s":4,"x":348,"y":10},{"s":4,"x":351,"y":9},{"s":4,"x":354,"y":8},{"s":4,"x":356,"y":9},{"s":4,"x":357,"y":10},{"s":4,"x":358,"y":11},{"s":4,"x":359,"y":19},{"s":4,"x":360,"y":25},{"s":4,"x":361,"y":28},{"s":4,"x":362,"y":30},{"s":4,"x":363,"y":30},{"s":4,"x":364,"y":29},{"s":4,"x":365,"y":27},{"s":4,"x":366,"y":23},{"s":4,"x":367,"y":16},{"s":4,"x":368,"y":12},{"s":4,"x":369,"y":11},{"s":4,"x":370,"y":11},{"s":4,"x":372,"y":13},{"s":4,"x":374,"y":17},{"s":4,"x":376,"y":21},{"s":4,"x":378,"y":25},{"s":4,"x":380,"y":24},{"s":4,"x":382,"y":19},{"s":4,"x":384,"y":13},{"s":4,"x":386,"y":10},{"s":4,"x":389,"y":8},{"s":4,"x":392,"y":6},{"s":4,"x":395,"y":9},{"s":4,"x":398,"y":5},{"s":4,"x":401,"y":7},{"s":4,"x":404,"y":10},{"s":4,"x":407,"y":6},{"s":4,"x":410,"y":4},{"s":4,"x":413,"y":8},{"s":4,"x":416,"y":5},{"s":4,"x":419,"y":3},{"s":4,"x":422,"y":7},{"s":4,"x":425,"y":9},{"s":4,"x":428,"y":6},{"s":4,"x":431,"y":4},{"s":4,"x":434,"y":8},{"s":4,"x":437,"y":5},{"s":4,"x":440,"y":2},{"s":4,"x":443,"y":6},{"s":4,"x":446,"y":9},{"s":4,"x":450,"y":4},
{"s":5,"x":300,"y":6},{"s":5,"x":303,"y":9},{"s":5,"x":306,"y":5},{"s":5,"x":309,"y":8},{"s":5,"x":312,"y":11},{"s":5,"x":315,"y":7},{"s":5,"x":318,"y":4},{"s":5,"x":321,"y":9},{"s":5,"x":324,"y":12},{"s":5,"x":327,"y":8},{"s":5,"x":330,"y":6},{"s":5,"x":333,"y":10},{"s":5,"x":336,"y":13},{"s":5,"x":339,"y":9},{"s":5,"x":342,"y":12},{"s":5,"x":345,"y":14},{"s":5,"x":348,"y":11},{"s":5,"x":351,"y":15},{"s":5,"x":354,"y":14},{"s":5,"x":356,"y":15},{"s":5,"x":357,"y":16},{"s":5,"x":358,"y":17},{"s":5,"x":359,"y":34},{"s":5,"x":360,"y":40},{"s":5,"x":361,"y":43},{"s":5,"x":362,"y":45},{"s":5,"x":363,"y":45},{"s":5,"x":364,"y":44},{"s":5,"x":365,"y":42},{"s":5,"x":366,"y":38},{"s":5,"x":367,"y":31},{"s":5,"x":368,"y":17},{"s":5,"x":369,"y":16},{"s":5,"x":370,"y":15},{"s":5,"x":372,"y":14},{"s":5,"x":374,"y":17},{"s":5,"x":376,"y":23},{"s":5,"x":378,"y":26},{"s":5,"x":380,"y":24},{"s":5,"x":382,"y":18},{"s":5,"x":384,"y":13},{"s":5,"x":386,"y":12},{"s":5,"x":389,"y":10},{"s":5,"x":392,"y":13},{"s":5,"x":395,"y":9},{"s":5,"x":398,"y":11},{"s":5,"x":401,"y":8},{"s":5,"x":404,"y":10},{"s":5,"x":407,"y":7},{"s":5,"x":410,"y":9},{"s":5,"x":413,"y":12},{"s":5,"x":416,"y":8},{"s":5,"x":419,"y":6},{"s":5,"x":422,"y":10},{"s":5,"x":425,"y":7},{"s":5,"x":428,"y":11},{"s":5,"x":431,"y":8},{"s":5,"x":434,"y":5},{"s":5,"x":437,"y":9},{"s":5,"x":440,"y":7},{"s":5,"x":443,"y":10},{"s":5,"x":446,"y":6},{"s":5,"x":450,"y":8},
{"s":6,"x":300,"y":10},{"s":6,"x":303,"y":12},{"s":6,"x":306,"y":8},{"s":6,"x":309,"y":11},{"s":6,"x":312,"y":9},{"s":6,"x":315,"y":13},{"s":6,"x":318,"y":10},{"s":6,"x":321,"y":7},{"s":6,"x":324,"y":11},{"s":6,"x":327,"y":9},{"s":6,"x":330,"y":12},{"s":6,"x":333,"y":8},{"s":6,"x":336,"y":10},{"s":6,"x":339,"y":7},{"s":6,"x":342,"y":12},{"s":6,"x":345,"y":10},{"s":6,"x":348,"y":13},{"s":6,"x":351,"y":11},{"s":6,"x":354,"y":13},{"s":6,"x":356,"y":12},{"s":6,"x":357,"y":13},{"s":6,"x":358,"y":15},{"s":6,"x":359,"y":29},{"s":6,"x":360,"y":35},{"s":6,"x":361,"y":38},{"s":6,"x":362,"y":40},{"s":6,"x":363,"y":40},{"s":6,"x":364,"y":39},{"s":6,"x":365,"y":37},{"s":6,"x":366,"y":33},{"s":6,"x":367,"y":26},{"s":6,"x":368,"y":14},{"s":6,"x":369,"y":13},{"s":6,"x":370,"y":12},{"s":6,"x":372,"y":11},{"s":6,"x":374,"y":13},{"s":6,"x":376,"y":15},{"s":6,"x":378,"y":14},{"s":6,"x":380,"y":13},{"s":6,"x":382,"y":11},{"s":6,"x":384,"y":12},{"s":6,"x":386,"y":10},{"s":6,"x":389,"y":12},{"s":6,"x":392,"y":9},{"s":6,"x":395,"y":11},{"s":6,"x":398,"y":13},{"s":6,"x":401,"y":10},{"s":6,"x":404,"y":8},{"s":6,"x":407,"y":12},{"s":6,"x":410,"y":9},{"s":6,"x":413,"y":11},{"s":6,"x":416,"y":7},{"s":6,"x":419,"y":10},{"s":6,"x":422,"y":12},{"s":6,"x":425,"y":8},{"s":6,"x":428,"y":11},{"s":6,"x":431,"y":9},{"s":6,"x":434,"y":7},{"s":6,"x":437,"y":10},{"s":6,"x":440,"y":12},{"s":6,"x":443,"y":8},{"s":6,"x":446,"y":11},{"s":6,"x":450,"y":9},
{"s":7,"x":300,"y":4},{"s":7,"x":303,"y":2},{"s":7,"x":306,"y":6},{"s":7,"x":309,"y":3},{"s":7,"x":312,"y":5},{"s":7,"x":315,"y":8},{"s":7,"x":318,"y":4},{"s":7,"x":321,"y":2},{"s":7,"x":324,"y":6},{"s":7,"x":327,"y":9},{"s":7,"x":330,"y":5},{"s":7,"x":333,"y":7},{"s":7,"x":336,"y":4},{"s":7,"x":339,"y":8},{"s":7,"x":342,"y":6},{"s":7,"x":345,"y":10},{"s":7,"x":348,"y":7},{"s":7,"x":351,"y":9},{"s":7,"x":354,"y":10},{"s":7,"x":356,"y":9},{"s":7,"x":357,"y":11},{"s":7,"x":358,"y":12},{"s":7,"x":359,"y":25},{"s":7,"x":360,"y":31},{"s":7,"x":361,"y":34},{"s":7,"x":362,"y":36},{"s":7,"x":363,"y":36},{"s":7,"x":364,"y":35},{"s":7,"x":365,"y":33},{"s":7,"x":366,"y":29},{"s":7,"x":367,"y":22},{"s":7,"x":368,"y":13},{"s":7,"x":369,"y":11},{"s":7,"x":370,"y":10},{"s":7,"x":372,"y":9},{"s":7,"x":374,"y":11},{"s":7,"x":376,"y":13},{"s":7,"x":378,"y":12},{"s":7,"x":380,"y":10},{"s":7,"x":382,"y":8},{"s":7,"x":384,"y":9},{"s":7,"x":386,"y":7},{"s":7,"x":389,"y":5},{"s":7,"x":392,"y":8},{"s":7,"x":395,"y":4},{"s":7,"x":398,"y":6},{"s":7,"x":401,"y":3},{"s":7,"x":404,"y":7},{"s":7,"x":407,"y":5},{"s":7,"x":410,"y":8},{"s":7,"x":413,"y":4},{"s":7,"x":416,"y":2},{"s":7,"x":419,"y":6},{"s":7,"x":422,"y":9},{"s":7,"x":425,"y":5},{"s":7,"x":428,"y":3},{"s":7,"x":431,"y":7},{"s":7,"x":434,"y":4},{"s":7,"x":437,"y":6},{"s":7,"x":440,"y":8},{"s":7,"x":443,"y":3},{"s":7,"x":446,"y":5},{"s":7,"x":450,"y":7},
{"s":8,"x":300,"y":9},{"s":8,"x":303,"y":6},{"s":8,"x":306,"y":4},{"s":8,"x":309,"y":7},{"s":8,"x":312,"y":10},{"s":8,"x":315,"y":8},{"s":8,"x":318,"y":5},{"s":8,"x":321,"y":3},{"s":8,"x":324,"y":7},{"s":8,"x":327,"y":10},{"s":8,"x":330,"y":6},{"s":8,"x":333,"y":9},{"s":8,"x":336,"y":11},{"s":8,"x":339,"y":7},{"s":8,"x":342,"y":9},{"s":8,"x":345,"y":12},{"s":8,"x":348,"y":10},{"s":8,"x":351,"y":8},{"s":8,"x":354,"y":11},{"s":8,"x":356,"y":10},{"s":8,"x":357,"y":11},{"s":8,"x":358,"y":12},{"s":8,"x":359,"y":21},{"s":8,"x":360,"y":27},{"s":8,"x":361,"y":30},{"s":8,"x":362,"y":32},{"s":8,"x":363,"y":32},{"s":8,"x":364,"y":31},{"s":8,"x":365,"y":29},{"s":8,"x":366,"y":25},{"s":8,"x":367,"y":18},{"s":8,"x":368,"y":12},{"s":8,"x":369,"y":10},{"s":8,"x":370,"y":9},{"s":8,"x":372,"y":8},{"s":8,"x":374,"y":10},{"s":8,"x":376,"y":13},{"s":8,"x":378,"y":15},{"s":8,"x":380,"y":14},{"s":8,"x":382,"y":10},{"s":8,"x":384,"y":8},{"s":8,"x":386,"y":9},{"s":8,"x":389,"y":7},{"s":8,"x":392,"y":10},{"s":8,"x":395,"y":8},{"s":8,"x":398,"y":5},{"s":8,"x":401,"y":9},{"s":8,"x":404,"y":6},{"s":8,"x":407,"y":4},{"s":8,"x":410,"y":8},{"s":8,"x":413,"y":6},{"s":8,"x":416,"y":10},{"s":8,"x":419,"y":7},{"s":8,"x":422,"y":4},{"s":8,"x":425,"y":8},{"s":8,"x":428,"y":11},{"s":8,"x":431,"y":6},{"s":8,"x":434,"y":9},{"s":8,"x":437,"y":5},{"s":8,"x":440,"y":7},{"s":8,"x":443,"y":10},{"s":8,"x":446,"y":8},{"s":8,"x":450,"y":6},
{"s":9,"x":300,"y":3},{"s":9,"x":303,"y":6},{"s":9,"x":306,"y":9},{"s":9,"x":309,"y":5},{"s":9,"x":312,"y":2},{"s":9,"x":315,"y":7},{"s":9,"x":318,"y":10},{"s":9,"x":321,"y":6},{"s":9,"x":324,"y":3},{"s":9,"x":327,"y":5},{"s":9,"x":330,"y":8},{"s":9,"x":333,"y":4},{"s":9,"x":336,"y":6},{"s":9,"x":339,"y":9},{"s":9,"x":342,"y":7},{"s":9,"x":345,"y":5},{"s":9,"x":348,"y":8},{"s":9,"x":351,"y":10},{"s":9,"x":354,"y":9},{"s":9,"x":356,"y":11},{"s":9,"x":357,"y":11},{"s":9,"x":358,"y":12},{"s":9,"x":359,"y":22},{"s":9,"x":360,"y":28},{"s":9,"x":361,"y":31},{"s":9,"x":362,"y":33},{"s":9,"x":363,"y":33},{"s":9,"x":364,"y":32},{"s":9,"x":365,"y":30},{"s":9,"x":366,"y":26},{"s":9,"x":367,"y":19},{"s":9,"x":368,"y":13},{"s":9,"x":369,"y":12},{"s":9,"x":370,"y":12},{"s":9,"x":372,"y":11},{"s":9,"x":374,"y":14},{"s":9,"x":376,"y":17},{"s":9,"x":378,"y":18},{"s":9,"x":380,"y":16},{"s":9,"x":382,"y":12},{"s":9,"x":384,"y":10},{"s":9,"x":386,"y":11},{"s":9,"x":389,"y":9},{"s":9,"x":392,"y":7},{"s":9,"x":395,"y":10},{"s":9,"x":398,"y":12},{"s":9,"x":401,"y":8},{"s":9,"x":404,"y":6},{"s":9,"x":407,"y":9},{"s":9,"x":410,"y":11},{"s":9,"x":413,"y":7},{"s":9,"x":416,"y":5},{"s":9,"x":419,"y":8},{"s":9,"x":422,"y":10},{"s":9,"x":425,"y":6},{"s":9,"x":428,"y":4},{"s":9,"x":431,"y":8},{"s":9,"x":434,"y":11},{"s":9,"x":437,"y":7},{"s":9,"x":440,"y":9},{"s":9,"x":443,"y":5},{"s":9,"x":446,"y":8},{"s":9,"x":450,"y":10},
{"s":10,"x":300,"y":1},{"s":10,"x":303,"y":4},{"s":10,"x":306,"y":2},{"s":10,"x":309,"y":5},{"s":10,"x":312,"y":7},{"s":10,"x":315,"y":3},{"s":10,"x":318,"y":1},{"s":10,"x":321,"y":4},{"s":10,"x":324,"y":6},{"s":10,"x":327,"y":2},{"s":10,"x":330,"y":5},{"s":10,"x":333,"y":3},{"s":10,"x":336,"y":7},{"s":10,"x":339,"y":4},{"s":10,"x":342,"y":6},{"s":10,"x":345,"y":5},{"s":10,"x":348,"y":8},{"s":10,"x":351,"y":7},{"s":10,"x":354,"y":6},{"s":10,"x":356,"y":8},{"s":10,"x":357,"y":9},{"s":10,"x":358,"y":10},{"s":10,"x":359,"y":17},{"s":10,"x":360,"y":23},{"s":10,"x":361,"y":26},{"s":10,"x":362,"y":28},{"s":10,"x":363,"y":28},{"s":10,"x":364,"y":27},{"s":10,"x":365,"y":25},{"s":10,"x":366,"y":21},{"s":10,"x":367,"y":14},{"s":10,"x":368,"y":10},{"s":10,"x":369,"y":8},{"s":10,"x":370,"y":7},{"s":10,"x":372,"y":8},{"s":10,"x":374,"y":10},{"s":10,"x":376,"y":12},{"s":10,"x":378,"y":11},{"s":10,"x":380,"y":9},{"s":10,"x":382,"y":7},{"s":10,"x":384,"y":5},{"s":10,"x":386,"y":6},{"s":10,"x":389,"y":4},{"s":10,"x":392,"y":2},{"s":10,"x":395,"y":5},{"s":10,"x":398,"y":3},{"s":10,"x":401,"y":6},{"s":10,"x":404,"y":4},{"s":10,"x":407,"y":1},{"s":10,"x":410,"y":3},{"s":10,"x":413,"y":5},{"s":10,"x":416,"y":7},{"s":10,"x":419,"y":4},{"s":10,"x":422,"y":2},{"s":10,"x":425,"y":6},{"s":10,"x":428,"y":3},{"s":10,"x":431,"y":5},{"s":10,"x":434,"y":1},{"s":10,"x":437,"y":4},{"s":10,"x":440,"y":6},{"s":10,"x":443,"y":3},{"s":10,"x":446,"y":2},{"s":10,"x":450,"y":5},
{"s":11,"x":300,"y":5},{"s":11,"x":303,"y":8},{"s":11,"x":306,"y":6},{"s":11,"x":309,"y":3},{"s":11,"x":312,"y":7},{"s":11,"x":315,"y":10},{"s":11,"x":318,"y":8},{"s":11,"x":321,"y":5},{"s":11,"x":324,"y":9},{"s":11,"x":327,"y":6},{"s":11,"x":330,"y":4},{"s":11,"x":333,"y":7},{"s":11,"x":336,"y":9},{"s":11,"x":339,"y":6},{"s":11,"x":342,"y":10},{"s":11,"x":345,"y":8},{"s":11,"x":348,"y":11},{"s":11,"x":351,"y":9},{"s":11,"x":354,"y":8},{"s":11,"x":356,"y":7},{"s":11,"x":357,"y":8},{"s":11,"x":358,"y":8},{"s":11,"x":359,"y":11},{"s":11,"x":360,"y":17},{"s":11,"x":361,"y":20},{"s":11,"x":362,"y":22},{"s":11,"x":363,"y":22},{"s":11,"x":364,"y":21},{"s":11,"x":365,"y":19},{"s":11,"x":366,"y":15},{"s":11,"x":367,"y":9},{"s":11,"x":368,"y":6},{"s":11,"x":369,"y":4},{"s":11,"x":370,"y":3},{"s":11,"x":372,"y":1},{"s":11,"x":374,"y":3},{"s":11,"x":376,"y":5},{"s":11,"x":378,"y":2},{"s":11,"x":380,"y":4},{"s":11,"x":382,"y":1},{"s":11,"x":384,"y":3},{"s":11,"x":386,"y":5},{"s":11,"x":389,"y":7},{"s":11,"x":392,"y":4},{"s":11,"x":395,"y":8},{"s":11,"x":398,"y":6},{"s":11,"x":401,"y":9},{"s":11,"x":404,"y":5},{"s":11,"x":407,"y":3},{"s":11,"x":410,"y":7},{"s":11,"x":413,"y":4},{"s":11,"x":416,"y":6},{"s":11,"x":419,"y":9},{"s":11,"x":422,"y":5},{"s":11,"x":425,"y":3},{"s":11,"x":428,"y":7},{"s":11,"x":431,"y":5},{"s":11,"x":434,"y":8},{"s":11,"x":437,"y":4},{"s":11,"x":440,"y":6},{"s":11,"x":443,"y":9},{"s":11,"x":446,"y":5},{"s":11,"x":450,"y":7},
{"s":12,"x":300,"y":7},{"s":12,"x":303,"y":10},{"s":12,"x":306,"y":12},{"s":12,"x":309,"y":9},{"s":12,"x":312,"y":6},{"s":12,"x":315,"y":8},{"s":12,"x":318,"y":11},{"s":12,"x":321,"y":13},{"s":12,"x":324,"y":10},{"s":12,"x":327,"y":7},{"s":12,"x":330,"y":9},{"s":12,"x":333,"y":12},{"s":12,"x":336,"y":10},{"s":12,"x":339,"y":14},{"s":12,"x":342,"y":11},{"s":12,"x":345,"y":13},{"s":12,"x":348,"y":12},{"s":12,"x":351,"y":15},{"s":12,"x":354,"y":16},{"s":12,"x":356,"y":14},{"s":12,"x":357,"y":15},{"s":12,"x":358,"y":16},{"s":12,"x":359,"y":23},{"s":12,"x":360,"y":29},{"s":12,"x":361,"y":32},{"s":12,"x":362,"y":34},{"s":12,"x":363,"y":34},{"s":12,"x":364,"y":33},{"s":12,"x":365,"y":31},{"s":12,"x":366,"y":27},{"s":12,"x":367,"y":20},{"s":12,"x":368,"y":16},{"s":12,"x":369,"y":15},{"s":12,"x":370,"y":14},{"s":12,"x":372,"y":13},{"s":12,"x":374,"y":16},{"s":12,"x":376,"y":20},{"s":12,"x":378,"y":22},{"s":12,"x":380,"y":21},{"s":12,"x":382,"y":16},{"s":12,"x":384,"y":12},{"s":12,"x":386,"y":13},{"s":12,"x":389,"y":11},{"s":12,"x":392,"y":9},{"s":12,"x":395,"y":12},{"s":12,"x":398,"y":10},{"s":12,"x":401,"y":7},{"s":12,"x":404,"y":11},{"s":12,"x":407,"y":8},{"s":12,"x":410,"y":10},{"s":12,"x":413,"y":6},{"s":12,"x":416,"y":9},{"s":12,"x":419,"y":11},{"s":12,"x":422,"y":8},{"s":12,"x":425,"y":6},{"s":12,"x":428,"y":10},{"s":12,"x":431,"y":12},{"s":12,"x":434,"y":7},{"s":12,"x":437,"y":9},{"s":12,"x":440,"y":11},{"s":12,"x":443,"y":8},{"s":12,"x":446,"y":10},{"s":12,"x":450,"y":9},
{"s":13,"x":300,"y":11},{"s":13,"x":303,"y":9},{"s":13,"x":306,"y":12},{"s":13,"x":309,"y":10},{"s":13,"x":312,"y":8},{"s":13,"x":315,"y":11},{"s":13,"x":318,"y":13},{"s":13,"x":321,"y":9},{"s":13,"x":324,"y":12},{"s":13,"x":327,"y":10},{"s":13,"x":330,"y":8},{"s":13,"x":333,"y":11},{"s":13,"x":336,"y":9},{"s":13,"x":339,"y":12},{"s":13,"x":342,"y":10},{"s":13,"x":345,"y":13},{"s":13,"x":348,"y":11},{"s":13,"x":351,"y":14},{"s":13,"x":354,"y":13},{"s":13,"x":356,"y":14},{"s":13,"x":357,"y":13},{"s":13,"x":358,"y":15},{"s":13,"x":359,"y":30},{"s":13,"x":360,"y":36},{"s":13,"x":361,"y":39},{"s":13,"x":362,"y":41},{"s":13,"x":363,"y":41},{"s":13,"x":364,"y":40},{"s":13,"x":365,"y":38},{"s":13,"x":366,"y":34},{"s":13,"x":367,"y":27},{"s":13,"x":368,"y":15},{"s":13,"x":369,"y":14},{"s":13,"x":370,"y":13},{"s":13,"x":372,"y":12},{"s":13,"x":374,"y":14},{"s":13,"x":376,"y":16},{"s":13,"x":378,"y":15},{"s":13,"x":380,"y":13},{"s":13,"x":382,"y":12},{"s":13,"x":384,"y":11},{"s":13,"x":386,"y":12},{"s":13,"x":389,"y":10},{"s":13,"x":392,"y":11},{"s":13,"x":395,"y":13},{"s":13,"x":398,"y":9},{"s":13,"x":401,"y":12},{"s":13,"x":404,"y":10},{"s":13,"x":407,"y":8},{"s":13,"x":410,"y":11},{"s":13,"x":413,"y":13},{"s":13,"x":416,"y":9},{"s":13,"x":419,"y":10},{"s":13,"x":422,"y":12},{"s":13,"x":425,"y":8},{"s":13,"x":428,"y":11},{"s":13,"x":431,"y":13},{"s":13,"x":434,"y":10},{"s":13,"x":437,"y":9},{"s":13,"x":440,"y":12},{"s":13,"x":443,"y":10},{"s":13,"x":446,"y":8},{"s":13,"x":450,"y":11},
{"s":14,"x":300,"y":6},{"s":14,"x":303,"y":9},{"s":14,"x":306,"y":7},{"s":14,"x":309,"y":4},{"s":14,"x":312,"y":8},{"s":14,"x":315,"y":6},{"s":14,"x":318,"y":10},{"s":14,"x":321,"y":8},{"s":14,"x":324,"y":5},{"s":14,"x":327,"y":7},{"s":14,"x":330,"y":9},{"s":14,"x":333,"y":6},{"s":14,"x":336,"y":11},{"s":14,"x":339,"y":8},{"s":14,"x":342,"y":10},{"s":14,"x":345,"y":9},{"s":14,"x":348,"y":12},{"s":14,"x":351,"y":10},{"s":14,"x":354,"y":12},{"s":14,"x":356,"y":11},{"s":14,"x":357,"y":13},{"s":14,"x":358,"y":14},{"s":14,"x":359,"y":28},{"s":14,"x":360,"y":34},{"s":14,"x":361,"y":37},{"s":14,"x":362,"y":39},{"s":14,"x":363,"y":39},{"s":14,"x":364,"y":38},{"s":14,"x":365,"y":36},{"s":14,"x":366,"y":32},{"s":14,"x":367,"y":25},{"s":14,"x":368,"y":14},{"s":14,"x":369,"y":13},{"s":14,"x":370,"y":13},{"s":14,"x":372,"y":13},{"s":14,"x":374,"y":16},{"s":14,"x":376,"y":18},{"s":14,"x":378,"y":19},{"s":14,"x":380,"y":17},{"s":14,"x":382,"y":13},{"s":14,"x":384,"y":10},{"s":14,"x":386,"y":9},{"s":14,"x":389,"y":11},{"s":14,"x":392,"y":7},{"s":14,"x":395,"y":9},{"s":14,"x":398,"y":6},{"s":14,"x":401,"y":10},{"s":14,"x":404,"y":8},{"s":14,"x":407,"y":5},{"s":14,"x":410,"y":9},{"s":14,"x":413,"y":7},{"s":14,"x":416,"y":4},{"s":14,"x":419,"y":8},{"s":14,"x":422,"y":10},{"s":14,"x":425,"y":6},{"s":14,"x":428,"y":8},{"s":14,"x":431,"y":5},{"s":14,"x":434,"y":9},{"s":14,"x":437,"y":7},{"s":14,"x":440,"y":4},{"s":14,"x":443,"y":8},{"s":14,"x":446,"y":6},{"s":14,"x":450,"y":9},
{"s":15,"x":300,"y":4},{"s":15,"x":303,"y":7},{"s":15,"x":306,"y":5},{"s":15,"x":309,"y":8},{"s":15,"x":312,"y":6},{"s":15,"x":315,"y":3},{"s":15,"x":318,"y":7},{"s":15,"x":321,"y":9},{"s":15,"x":324,"y":6},{"s":15,"x":327,"y":4},{"s":15,"x":330,"y":8},{"s":15,"x":333,"y":5},{"s":15,"x":336,"y":7},{"s":15,"x":339,"y":10},{"s":15,"x":342,"y":8},{"s":15,"x":345,"y":6},{"s":15,"x":348,"y":9},{"s":15,"x":351,"y":11},{"s":15,"x":354,"y":10},{"s":15,"x":356,"y":12},{"s":15,"x":357,"y":11},{"s":15,"x":358,"y":13},{"s":15,"x":359,"y":26},{"s":15,"x":360,"y":32},{"s":15,"x":361,"y":35},{"s":15,"x":362,"y":37},{"s":15,"x":363,"y":37},{"s":15,"x":364,"y":36},{"s":15,"x":365,"y":34},{"s":15,"x":366,"y":30},{"s":15,"x":367,"y":23},{"s":15,"x":368,"y":12},{"s":15,"x":369,"y":11},{"s":15,"x":370,"y":10},{"s":15,"x":372,"y":9},{"s":15,"x":374,"y":11},{"s":15,"x":376,"y":12},{"s":15,"x":378,"y":12},{"s":15,"x":380,"y":10},{"s":15,"x":382,"y":9},{"s":15,"x":384,"y":8},{"s":15,"x":386,"y":7},{"s":15,"x":389,"y":9},{"s":15,"x":392,"y":6},{"s":15,"x":395,"y":8},{"s":15,"x":398,"y":10},{"s":15,"x":401,"y":7},{"s":15,"x":404,"y":5},{"s":15,"x":407,"y":8},{"s":15,"x":410,"y":6},{"s":15,"x":413,"y":9},{"s":15,"x":416,"y":7},{"s":15,"x":419,"y":4},{"s":15,"x":422,"y":8},{"s":15,"x":425,"y":6},{"s":15,"x":428,"y":9},{"s":15,"x":431,"y":7},{"s":15,"x":434,"y":5},{"s":15,"x":437,"y":8},{"s":15,"x":440,"y":10},{"s":15,"x":443,"y":6},{"s":15,"x":446,"y":8},{"s":15,"x":450,"y":7},
{"s":16,"x":300,"y":8},{"s":16,"x":303,"y":5},{"s":16,"x":306,"y":10},{"s":16,"x":309,"y":7},{"s":16,"x":312,"y":9},{"s":16,"x":315,"y":6},{"s":16,"x":318,"y":4},{"s":16,"x":321,"y":8},{"s":16,"x":324,"y":11},{"s":16,"x":327,"y":7},{"s":16,"x":330,"y":9},{"s":16,"x":333,"y":6},{"s":16,"x":336,"y":8},{"s":16,"x":339,"y":11},{"s":16,"x":342,"y":9},{"s":16,"x":345,"y":12},{"s":16,"x":348,"y":10},{"s":16,"x":351,"y":12},{"s":16,"x":354,"y":11},{"s":16,"x":356,"y":12},{"s":16,"x":357,"y":13},{"s":16,"x":358,"y":13},{"s":16,"x":359,"y":24},{"s":16,"x":360,"y":30},{"s":16,"x":361,"y":33},{"s":16,"x":362,"y":35},{"s":16,"x":363,"y":35},{"s":16,"x":364,"y":34},{"s":16,"x":365,"y":32},{"s":16,"x":366,"y":28},{"s":16,"x":367,"y":21},{"s":16,"x":368,"y":14},{"s":16,"x":369,"y":13},{"s":16,"x":370,"y":13},{"s":16,"x":372,"y":14},{"s":16,"x":374,"y":17},{"s":16,"x":376,"y":20},{"s":16,"x":378,"y":21},{"s":16,"x":380,"y":19},{"s":16,"x":382,"y":15},{"s":16,"x":384,"y":11},{"s":16,"x":386,"y":10},{"s":16,"x":389,"y":8},{"s":16,"x":392,"y":11},{"s":16,"x":395,"y":9},{"s":16,"x":398,"y":12},{"s":16,"x":401,"y":7},{"s":16,"x":404,"y":9},{"s":16,"x":407,"y":11},{"s":16,"x":410,"y":8},{"s":16,"x":413,"y":6},{"s":16,"x":416,"y":10},{"s":16,"x":419,"y":7},{"s":16,"x":422,"y":9},{"s":16,"x":425,"y":11},{"s":16,"x":428,"y":6},{"s":16,"x":431,"y":8},{"s":16,"x":434,"y":10},{"s":16,"x":437,"y":7},{"s":16,"x":440,"y":9},{"s":16,"x":443,"y":5},{"s":16,"x":446,"y":8},{"s":16,"x":450,"y":10}
]
},
"vconcat":[
{"title":"Mode A Delay Profile","width":890,"height":190,"data":{"name":"A"},
"mark":{"type":"line","strokeWidth":0.9,"opacity":0.55,"interpolate":"monotone"},
"encoding":{
"x":{"field":"x","type":"quantitative","scale":{"domain":[300,450],"nice":false},"axis":{"values":[300,350,400,450],"title":null}},
"y":{"field":"y","type":"quantitative","scale":{"domain":[0,50],"nice":false},"axis":{"values":[0,10,20,30,40,50],"title":"Amplitude Response (dB)","titleFontSize":22,"titlePadding":-1}},
"color":{"field":"s","type":"nominal","scale":{"domain":[1,2,3,4,5,6,7,8,9,10,11,12,13,14,15,16],"range":["#0072BD","#D95319","#EDB120","#7E2F8E","#77AC30","#4DBEEE","#A2142F","#0072BD","#D95319","#EDB120","#7E2F8E","#77AC30","#4DBEEE","#A2142F","#0072BD","#D95319"]},"legend":null}}},
{"title":"Mode B Delay Profile","width":890,"height":190,"data":{"name":"B"},
"mark":{"type":"line","strokeWidth":0.9,"opacity":0.55,"interpolate":"monotone"},
"encoding":{
"x":{"field":"x","type":"quantitative","scale":{"domain":[300,450],"nice":false},"axis":{"values":[300,350,400,450],"title":"Lags","titleFontSize":19,"titlePadding":6}},
"y":{"field":"y","type":"quantitative","scale":{"domain":[0,50],"nice":false},"axis":{"values":[0,10,20,30,40,50],"title":"Amplitude Response (dB)","titleFontSize":22,"titlePadding":-1}},
"color":{"field":"s","type":"nominal","scale":{"domain":[1,2,3,4,5,6,7,8,9,10,11,12,13,14,15,16],"range":["#0072BD","#D95319","#EDB120","#7E2F8E","#77AC30","#4DBEEE","#A2142F","#0072BD","#D95319","#EDB120","#7E2F8E","#77AC30","#4DBEEE","#A2142F","#0072BD","#D95319"]},"legend":null}}}
]
}
